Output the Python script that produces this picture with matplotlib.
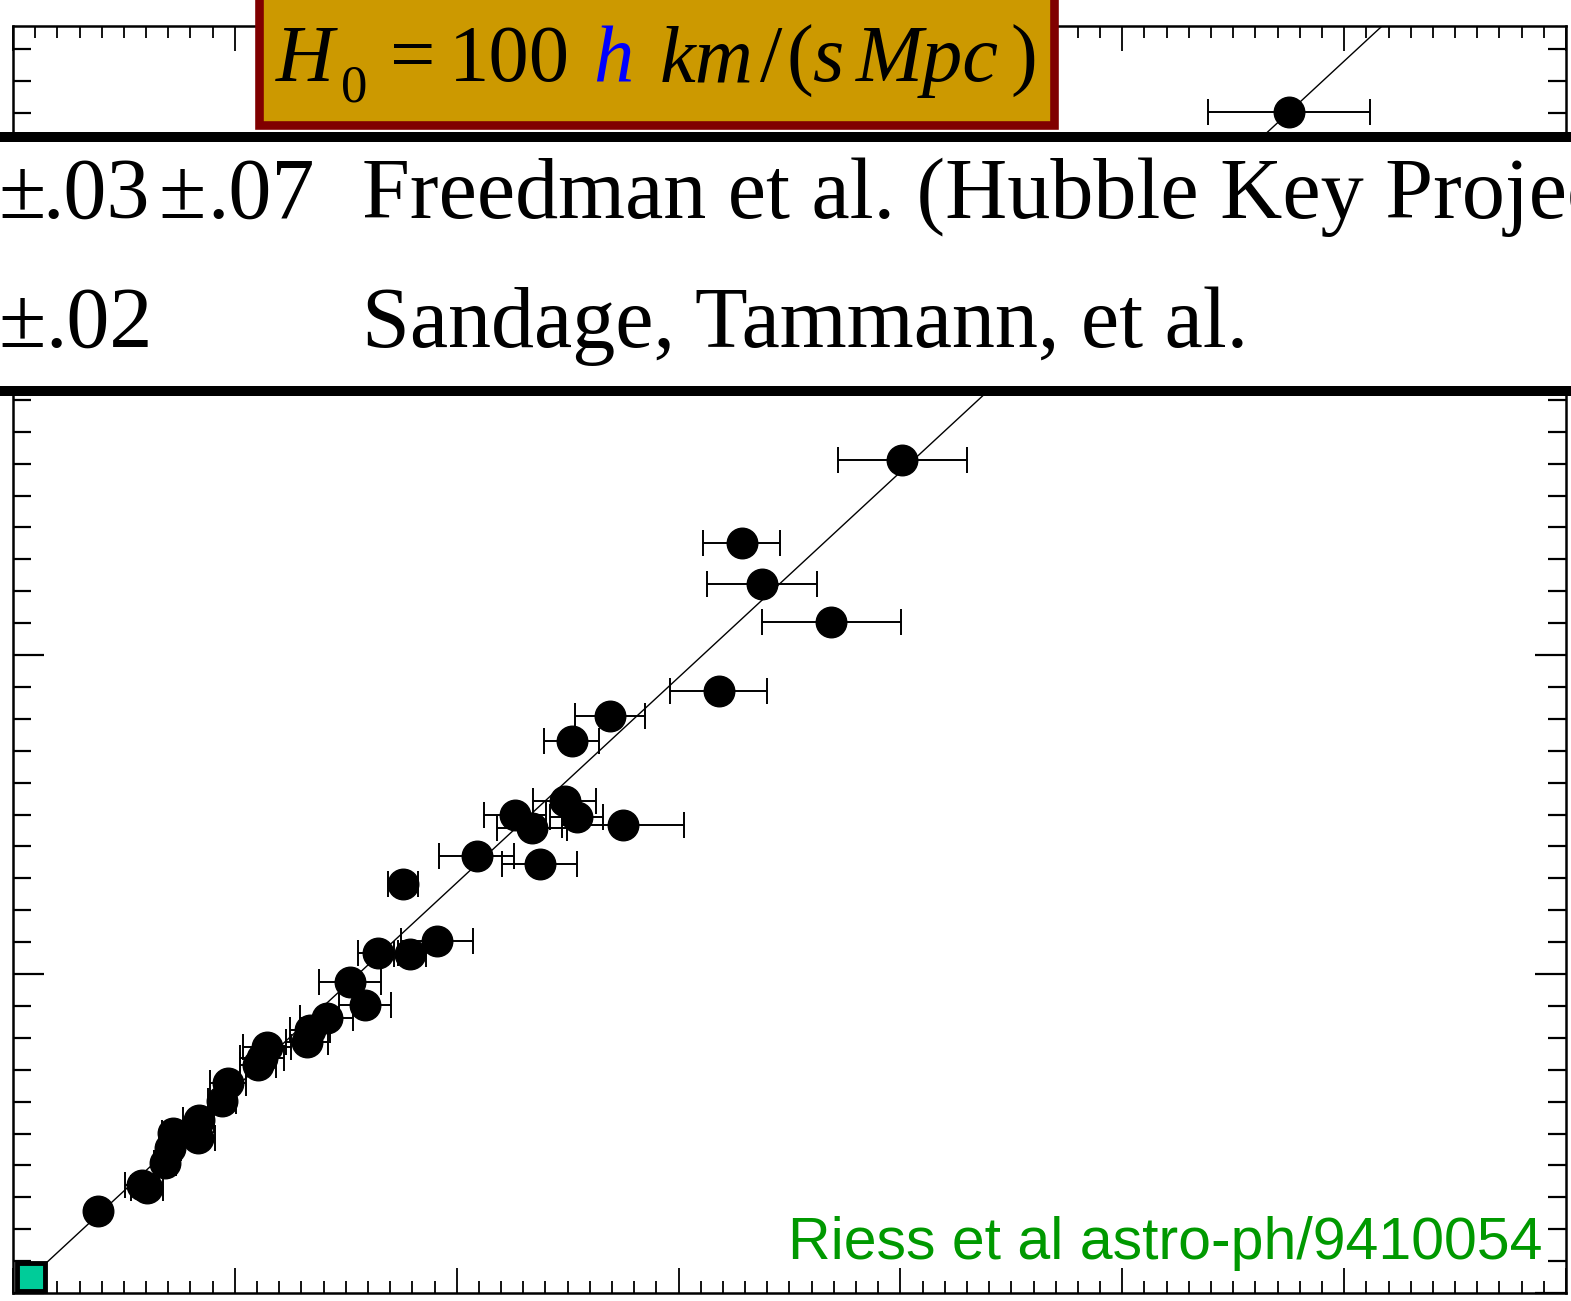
import numpy as np
import matplotlib
matplotlib.use("Agg")
import matplotlib.pyplot as plt
from matplotlib.patches import Rectangle
from matplotlib.ticker import MultipleLocator

W, H = 1571, 1301

# SN Ia Hubble diagram (axis units, one major tick = 1)
sn_x = np.array([5.752, 4.009, 3.284, 3.374, 3.689, 3.180, 2.689, 2.518,
                 2.486, 2.261, 2.338, 2.541, 2.748, 2.090, 2.374, 1.757,
                 1.910, 1.788, 1.644, 1.518, 1.586, 1.414, 1.338, 1.324,
                 1.144, 1.122, 1.104, 0.968, 0.941, 0.838, 0.721, 0.833,
                 0.707, 0.685, 0.581, 0.604, 0.383])
sn_y = np.array([3.702, 2.611, 2.351, 2.223, 2.103, 1.887, 1.809, 1.730,
                 1.542, 1.498, 1.458, 1.492, 1.467, 1.370, 1.345, 1.282,
                 1.103, 1.063, 1.066, 0.975, 0.903, 0.862, 0.824, 0.787,
                 0.771, 0.737, 0.715, 0.658, 0.602, 0.542, 0.502, 0.486,
                 0.455, 0.408, 0.339, 0.329, 0.257])
sn_xerr = np.array([0.365, 0.29, 0.175, 0.248, 0.313, 0.22, 0.158, 0.124,
                    0.14, 0.14, 0.158, 0.12, 0.275, 0.17, 0.17, 0.068,
                    0.162, 0.072, 0.09, 0.14, 0.117, 0.12, 0.09, 0.095,
                    0.108, 0.1, 0.08, 0.08, 0.063, 0.07, 0.05, 0.077,
                    0.05, 0.05, 0.077, 0.07, 0.0])

# local anchor point and Hubble line slope
origin_x, origin_y = 0.081, 0.050
hubble_slope = 0.644

# rows of the H0 table
table_errors = [["±", ".03", "±", ".07"], ["±", ".02"]]
table_refs = ["Freedman et al. (Hubble Key Project)", "Sandage, Tammann, et al."]
source_note = "Riess et al astro-ph/9410054"


def fx(px):
    return px / W


def fy(py):
    return 1 - py / H


fig = plt.figure(figsize=(W / 100, H / 100), dpi=100)
ax = fig.add_axes([fx(13), fy(1293), (1566 - 13) / W, (1293 - 26) / H])
ax.set_xlim(0, 7)
ax.set_ylim(0, 3.972)
ax.xaxis.set_major_locator(MultipleLocator(1))
ax.xaxis.set_minor_locator(MultipleLocator(0.1))
ax.yaxis.set_major_locator(MultipleLocator(1))
ax.yaxis.set_minor_locator(MultipleLocator(0.1))
ax.tick_params(which="both", direction="in", top=True, right=True,
               labelbottom=False, labelleft=False, color="black")
ax.tick_params(axis="x", which="major", length=18, width=1.3)
ax.tick_params(axis="x", which="minor", length=8.5, width=1.3)
ax.tick_params(axis="y", which="major", length=22, width=1.6)
ax.tick_params(axis="y", which="minor", length=13, width=1.6)
for s in ax.spines.values():
    s.set_linewidth(1.8)

# Hubble line
line_x = np.array([origin_x, 7.0])
line_y = origin_y + hubble_slope * (line_x - origin_x)
ax.plot(line_x, line_y, color="black", lw=1.0, zorder=2)

ax.errorbar(sn_x, sn_y, xerr=sn_xerr, fmt="o", color="black", ms=22,
            ecolor="black", elinewidth=1.4, capsize=9.5, capthick=1.4, zorder=3)

ax.plot([origin_x], [origin_y], marker="s", ms=19.5, mfc="#00CC99",
        mec="black", mew=3.5, clip_on=False, zorder=4)

ax.text(fx(1542), fy(1259), source_note, transform=fig.transFigure,
        ha="right", va="baseline", color="#009900", fontsize=42.5,
        family=["Liberation Sans", "DejaVu Sans"])

# white band with the table, bordered by thick rules
fig.add_artist(Rectangle((0, fy(388)), 1, fy(140) - fy(388),
                         transform=fig.transFigure, facecolor="white",
                         edgecolor="none", zorder=5))
for top, bot in [(132, 142), (386, 396)]:
    fig.add_artist(Rectangle((0, fy(bot)), 1, fy(top) - fy(bot),
                             transform=fig.transFigure, facecolor="black",
                             edgecolor="none", zorder=6))

serif = ["Liberation Serif", "DejaVu Serif"]
err_pos = [[-2, 42, 158, 207], [-2, 45]]
baselines = [218, 347]
for parts, xs, ref, base in zip(table_errors, err_pos, table_refs, baselines):
    for t, xp in zip(parts, xs):
        fig.text(fx(xp), fy(base), t, fontsize=62, family=serif,
                 va="baseline", ha="left", zorder=7)
    fig.text(fx(362), fy(base), ref, fontsize=62, family=serif,
             va="baseline", ha="left", zorder=7)

# H0 definition box
fig.add_artist(Rectangle((fx(259), fy(125)), fx(1054) - fx(259), fy(-20) - fy(125),
                         transform=fig.transFigure, facecolor="#CC9900",
                         edgecolor="#800000", linewidth=6.2, zorder=8))
formula = [("H", 276, 81, "italic", 58, "black"),
           ("0", 341, 101, "normal", 38, "black"),
           ("=", 390, 81, "normal", 58, "black"),
           ("100", 449, 81, "normal", 58, "black"),
           ("h", 593, 81, "italic", 58, "blue"),
           ("km", 660, 81, "italic", 58, "black"),
           ("/", 760, 81, "normal", 58, "black"),
           ("(", 786, 81, "normal", 58, "black"),
           ("s", 812, 81, "italic", 58, "black"),
           ("Mpc", 856, 81, "italic", 58, "black"),
           (")", 1010, 81, "normal", 58, "black")]
for t, xp, yp, st, sz, col in formula:
    fig.text(fx(xp), fy(yp), t, fontsize=sz, family=serif, style=st,
             color=col, va="baseline", ha="left", zorder=9)

fig.savefig("out.png", dpi=100)
